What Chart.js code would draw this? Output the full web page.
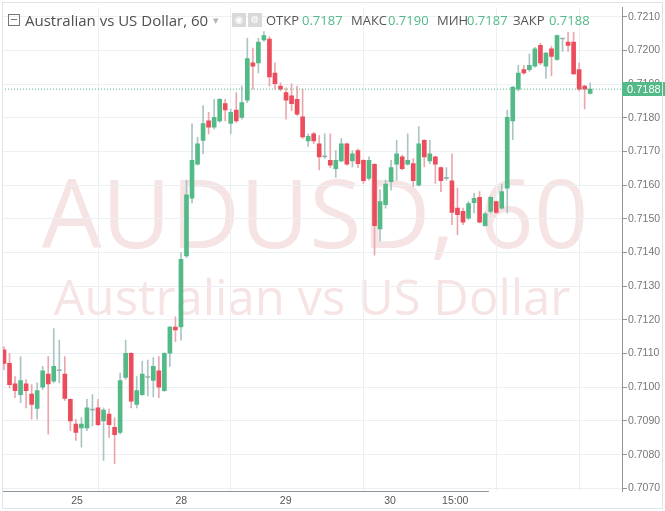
<!DOCTYPE html>
<html>
<head>
<meta charset="utf-8">
<script src="https://cdn.jsdelivr.net/npm/chart.js@4.4.0/dist/chart.umd.min.js"></script>
<style>
  html, body { margin: 0; padding: 0; background: #fff; }
  #wrap { position: relative; width: 665px; height: 511px; overflow: hidden; }
  #c { position: absolute; left: 0; top: 0; }
  #frame { position: absolute; left: 2px; top: 2px; width: 661px; height: 507px; box-sizing: border-box; border: 1px solid #e0e3e8; pointer-events: none; }
  .hd { position: absolute; font-family: "Open Sans", sans-serif; white-space: nowrap; line-height: 16px; }
  .lbl { font-size: 13px; color: #555; top: 12px; }
  .val { font-size: 13px; color: #53b987; top: 12px; }
  .ico { position: absolute; top: 13px; width: 14px; height: 14px; background: #d9d9d9; color: #fff; font: 10px "DejaVu Sans"; text-align: center; line-height: 14px; }
</style>
</head>
<body>
<div id="wrap">
  <canvas id="c" width="665" height="511"></canvas>
  <div id="frame"></div>
  <div style="position:absolute;left:8px;top:14px;width:10px;height:10px;border:1px solid #777;"><div style="position:absolute;left:2px;top:4px;width:6px;height:1px;background:#777;"></div></div>
  <div class="hd" style="left:25px;top:11px;font-size:15px;color:#4f4f4f;line-height:18px;">Australian vs US Dollar, 60</div>
  <div class="hd" style="left:213px;top:12px;font-size:11px;color:#b5b5b5;">▾</div>
  <div class="ico" style="left:232px;">◉</div>
  <div class="ico" style="left:248px;">⚙</div>
  <div class="hd lbl" style="left:266px;">ОТКР</div>
  <div class="hd val" style="left:302px;">0.7187</div>
  <div class="hd lbl" style="left:351px;">МАКС</div>
  <div class="hd val" style="left:388px;">0.7190</div>
  <div class="hd lbl" style="left:437px;">МИН</div>
  <div class="hd val" style="left:467px;">0.7187</div>
  <div class="hd lbl" style="left:513px;">ЗАКР</div>
  <div class="hd val" style="left:549px;">0.7188</div>
</div>
<script>
// hourly candles, AUDUSD 60
const open = [
  0.71111, 0.71071, 0.71010, 0.70978, 0.71010, 0.70980, 0.70937, 0.71000, 0.71039, 0.71018,
  0.71049, 0.71039, 0.70964, 0.70891, 0.70879, 0.70879, 0.70932, 0.70939, 0.70900, 0.70920,
  0.70881, 0.70866, 0.71029, 0.71101, 0.70949, 0.70978, 0.71029, 0.71020, 0.71049, 0.70990,
  0.71101, 0.71179, 0.71179, 0.71390, 0.71561, 0.71662, 0.71733, 0.71791, 0.71772, 0.71791,
  0.71842, 0.71783, 0.71823, 0.71801, 0.71852, 0.71963, 0.71963, 0.72031, 0.72034, 0.71933,
  0.71894, 0.71875, 0.71865, 0.71855, 0.71803, 0.71731, 0.71752, 0.71723, 0.71684, 0.71674,
  0.71649, 0.71672, 0.71723, 0.71672, 0.71703, 0.71674, 0.71620, 0.71662, 0.71470, 0.71542,
  0.71610, 0.71662, 0.71684, 0.71662, 0.71664, 0.71600, 0.71733, 0.71672, 0.71684, 0.71652,
  0.71620, 0.71613, 0.71532, 0.71522, 0.71502, 0.71548, 0.71564, 0.71480, 0.71522, 0.71551,
  0.71532, 0.71591, 0.71791, 0.71885, 0.71943, 0.71943, 0.71953, 0.72015, 0.71953, 0.72005,
  0.71973, 0.72034, 0.72025, 0.72025, 0.71943, 0.71894, 0.71872
];
const high = [
  0.71121, 0.71101, 0.71032, 0.71091, 0.71023, 0.71008, 0.71013, 0.71062, 0.71091, 0.71174,
  0.71140, 0.71091, 0.70966, 0.70905, 0.70910, 0.70964, 0.70978, 0.70964, 0.70939, 0.70935,
  0.70910, 0.71042, 0.71140, 0.71103, 0.71032, 0.71078, 0.71081, 0.71088, 0.71091, 0.71103,
  0.71181, 0.71209, 0.71400, 0.71615, 0.71782, 0.71743, 0.71836, 0.71816, 0.71855, 0.71857,
  0.71855, 0.71826, 0.71875, 0.71894, 0.72036, 0.72007, 0.72036, 0.72056, 0.72041, 0.71963,
  0.71904, 0.71889, 0.71901, 0.71894, 0.71885, 0.71752, 0.71757, 0.71747, 0.71752, 0.71752,
  0.71703, 0.71738, 0.71725, 0.71703, 0.71708, 0.71676, 0.71684, 0.71664, 0.71586, 0.71615,
  0.71674, 0.71733, 0.71689, 0.71752, 0.71679, 0.71774, 0.71735, 0.71733, 0.71686, 0.71654,
  0.71652, 0.71693, 0.71591, 0.71532, 0.71551, 0.71576, 0.71581, 0.71519, 0.71566, 0.71553,
  0.71603, 0.71823, 0.71893, 0.71956, 0.71956, 0.71989, 0.72009, 0.72022, 0.71994, 0.72012,
  0.72046, 0.72036, 0.72054, 0.72054, 0.71963, 0.71896, 0.71904
];
const low = [
  0.71052, 0.70998, 0.70969, 0.70954, 0.70939, 0.70905, 0.70905, 0.70993, 0.70861, 0.71013,
  0.71013, 0.70961, 0.70871, 0.70842, 0.70822, 0.70871, 0.70886, 0.70886, 0.70783, 0.70851,
  0.70773, 0.70861, 0.71023, 0.70939, 0.70939, 0.70976, 0.70974, 0.70971, 0.70969, 0.70988,
  0.71062, 0.71135, 0.71140, 0.71385, 0.71547, 0.71659, 0.71693, 0.71752, 0.71767, 0.71786,
  0.71791, 0.71752, 0.71786, 0.71796, 0.71845, 0.71885, 0.71933, 0.72027, 0.71894, 0.71885,
  0.71880, 0.71796, 0.71821, 0.71806, 0.71738, 0.71715, 0.71723, 0.71645, 0.71679, 0.71652,
  0.71623, 0.71669, 0.71659, 0.71654, 0.71652, 0.71605, 0.71615, 0.71392, 0.71434, 0.71532,
  0.71586, 0.71615, 0.71645, 0.71659, 0.71596, 0.71598, 0.71654, 0.71664, 0.71605, 0.71581,
  0.71615, 0.71483, 0.71453, 0.71483, 0.71498, 0.71517, 0.71488, 0.71478, 0.71517, 0.71515,
  0.71529, 0.71517, 0.71735, 0.71880, 0.71929, 0.71938, 0.71950, 0.71958, 0.71917, 0.71924,
  0.71970, 0.71997, 0.71997, 0.71929, 0.71880, 0.71826, 0.71870
];
const close = [
  0.71071, 0.71008, 0.70990, 0.71020, 0.70990, 0.70949, 0.70990, 0.71049, 0.71010, 0.71062,
  0.71049, 0.70967, 0.70900, 0.70866, 0.70891, 0.70939, 0.70932, 0.70889, 0.70932, 0.70889,
  0.70859, 0.71020, 0.71101, 0.70959, 0.70990, 0.71039, 0.71029, 0.71062, 0.71000, 0.71101,
  0.71179, 0.71170, 0.71380, 0.71571, 0.71674, 0.71723, 0.71783, 0.71772, 0.71801, 0.71855,
  0.71823, 0.71816, 0.71791, 0.71845, 0.71976, 0.71953, 0.72025, 0.72044, 0.71921, 0.71901,
  0.71885, 0.71852, 0.71842, 0.71811, 0.71743, 0.71745, 0.71731, 0.71684, 0.71684, 0.71659,
  0.71674, 0.71723, 0.71662, 0.71693, 0.71664, 0.71613, 0.71674, 0.71480, 0.71551, 0.71603,
  0.71652, 0.71693, 0.71649, 0.71674, 0.71613, 0.71723, 0.71684, 0.71693, 0.71662, 0.71613,
  0.71620, 0.71519, 0.71512, 0.71490, 0.71545, 0.71561, 0.71490, 0.71515, 0.71564, 0.71519,
  0.71581, 0.71801, 0.71891, 0.71933, 0.71933, 0.71956, 0.72005, 0.71963, 0.71992, 0.71982,
  0.72044, 0.72034, 0.72015, 0.71930, 0.71885, 0.71885, 0.71885
];

// bar index of each day start, and what the time axis prints there
const dayTicks = [17, 41, 65, 89, 104];
const dayLabels = ["25", "28", "29", "30", "15:00"];
const priceTicks = [0.7070, 0.7080, 0.7090, 0.7100, 0.7110, 0.7120, 0.7130, 0.7140,
                    0.7150, 0.7160, 0.7170, 0.7180, 0.7190, 0.7200, 0.7210];

const upColor = "#53b987";
const downColor = "#eb4d5c";
const flatColor = "#93b0aa";
const gridColor = "#edf0f3";
const axisColor = "#8f959b";

const xMin = -0.36, xMax = 111.75;
const idx = open.map((_, i) => i);
const last = close[close.length - 1];

function bodyColor(i) {
    if (close[i] > open[i]) return upColor;
    if (close[i] < open[i]) return downColor;
    return flatColor;
}

function wickColor(i) {
    if (close[i] < open[i]) return "#eba7ae";
    return "#a9c5c4";
}

const watermark = {
    id: "watermark",
    beforeDraw(chart) {
        const ctx = chart.ctx;
        ctx.save();
        ctx.fillStyle = "rgba(200, 80, 90, 0.16)";
        ctx.textAlign = "center";
        ctx.textBaseline = "alphabetic";
        ctx.font = '95px "Open Sans"';
        ctx.fillText("AUDUSD, 60", 315, 248);
        ctx.font = '49px "Open Sans"';
        ctx.fillText("Australian vs US Dollar", 312, 315);
        ctx.restore();
    }
};

const priceLabel = {
    id: "priceLabel",
    afterDraw(chart) {
        const { ctx, chartArea, scales } = chart;
        const y = scales.y.getPixelForValue(last);
        ctx.save();
        ctx.fillStyle = upColor;
        ctx.fillRect(chartArea.right, Math.round(y) - 7, 43, 14);
        ctx.fillStyle = "#fff";
        ctx.font = '11px "Liberation Sans"';
        ctx.textBaseline = "middle";
        ctx.fillText(last.toFixed(4), chartArea.right + 5, Math.round(y) + 0.5);

        // time axis line, follows the label strip
        const xr = scales.x2.getPixelForValue(xMax);
        ctx.strokeStyle = axisColor;
        ctx.lineWidth = 1;
        ctx.beginPath();
        ctx.moveTo(chartArea.left, chartArea.bottom + 0.5);
        ctx.lineTo(xr, chartArea.bottom + 0.5);
        ctx.stroke();
        ctx.restore();
    }
};

new Chart(document.getElementById("c"), {
    type: "bar",
    data: {
        datasets: [
            {
                label: "body",
                data: idx.map(i => ({ x: i, y: [open[i], close[i]] })),
                backgroundColor: idx.map(bodyColor),
                barThickness: 4,
                minBarLength: 1,
                grouped: false,
                order: 1
            },
            {
                label: "wick",
                data: idx.map(i => ({ x: i, y: [low[i], high[i]] })),
                backgroundColor: idx.map(wickColor),
                barThickness: 1,
                grouped: false,
                order: 2
            },
            {
                type: "line",
                label: "last",
                data: [{ x: xMin, y: last }, { x: xMax, y: last }],
                borderColor: upColor,
                borderWidth: 1,
                borderDash: [1, 2],
                pointRadius: 0,
                order: 0
            }
        ]
    },
    options: {
        responsive: false,
        animation: false,
        layout: { padding: { left: 2, top: 2, right: 0, bottom: 0 } },
        plugins: {
            legend: { display: false },
            tooltip: { enabled: false }
        },
        scales: {
            x: {
                type: "linear",
                min: xMin,
                max: xMax,
                offset: false,
                afterBuildTicks: s => { s.ticks = dayTicks.map(v => ({ value: v })); },
                grid: { color: gridColor, offset: false, drawTicks: false },
                border: { display: false },
                ticks: { display: false },
                afterFit: s => { s.height = 0; }
            },
            x2: {
                type: "linear",
                axis: "x",
                position: "bottom",
                min: -0.26,
                max: 142.36,
                offset: false,
                afterBuildTicks: s => { s.ticks = dayTicks.map(v => ({ value: v })); },
                grid: { display: false, drawTicks: false },
                border: { display: false },
                ticks: {
                    font: { family: "Liberation Sans", size: 10.5 },
                    color: "#555",
                    padding: 4,
                    maxRotation: 0,
                    autoSkip: false,
                    callback: v => dayLabels[dayTicks.indexOf(v)]
                },
                afterFit: s => { s.height = 20; }
            },
            y: {
                position: "right",
                min: 0.70692,
                max: 0.72128,
                beginAtZero: false,
                afterBuildTicks: s => { s.ticks = priceTicks.map(v => ({ value: v })); },
                grid: { color: gridColor, tickColor: axisColor, tickLength: 5 },
                border: { display: true, color: axisColor },
                ticks: {
                    font: { family: "Liberation Sans", size: 10.5 },
                    color: "#777",
                    padding: 1,
                    callback: v => v.toFixed(4)
                },
                afterFit: s => { s.width = 43; }
            }
        }
    },
    plugins: [watermark, priceLabel]
});
</script>
</body>
</html>
